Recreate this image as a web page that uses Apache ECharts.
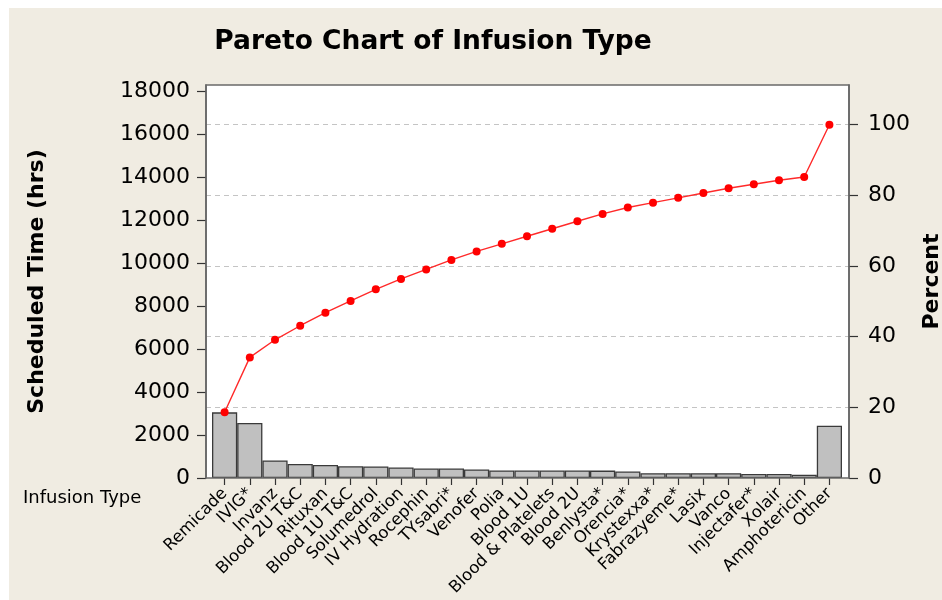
<!DOCTYPE html>
<html>
<head>
<meta charset="utf-8">
<script src="https://cdn.jsdelivr.net/npm/echarts@6/dist/echarts.min.js"></script>
<style>
html,body{margin:0;padding:0;background:#ffffff;}
#chart{width:942px;height:600px;}
</style>
</head>
<body>
<div id="chart"></div>
<script>
const categories = ["Remicade","IVIG*","Invanz","Blood 2U T&C","Rituxan","Blood 1U T&C","Solumedrol","IV Hydration","Rocephin","TYsabri*","Venofer","Polia","Blood 1U","Blood & Platelets","Blood 2U","Benlysta*","Orencia*","Krystexxa*","Fabrazyeme*","Lasix","Vanco","Injectafer*","Xolair","Amphotericin","Other"];
const hours = [3060,2560,820,655,610,545,540,488,442,442,395,355,352,350,348,345,300,224,224,224,224,185,185,150,2440];
const leftTicks = [0,2000,4000,6000,8000,10000,12000,14000,16000,18000];
const rightTicks = [0,20,40,60,80,100];
const leftMax = 18313;

const total = hours.reduce((a,b)=>a+b,0);
let run = 0;
const cumPct = hours.map(v => { run += v; return +(run/total*100).toFixed(3); });
const rightMax = 100*leftMax/total;

const FONT = '"DejaVu Sans", Verdana, sans-serif';
const chart = echarts.init(document.getElementById('chart'), null, {renderer:'canvas'});
chart.setOption({
  animation: false,
  backgroundColor: '#ffffff',
  textStyle: {fontFamily: FONT},
  graphic: [
    {type:'rect', z:-20, shape:{x:9,y:8,width:942,height:600}, style:{fill:'#f0ece2'}},
    {type:'rect', z:-10, shape:{x:206,y:85,width:643,height:393}, style:{fill:'#ffffff'}},
    {type:'rect', z:50, shape:{x:206,y:85,width:643,height:393}, style:{fill:null, stroke:'#6a6a6a', lineWidth:1.5}},
    {type:'text', z:50, x:433, y:42, style:{text:'Pareto Chart of Infusion Type', font:'bold 26.5px '+FONT, fill:'#000', align:'center', verticalAlign:'middle'}},
    {type:'text', z:50, x:23, y:498, style:{text:'Infusion Type', font:'18px '+FONT, fill:'#000', align:'left', verticalAlign:'middle'}}
  ],
  grid: [
    {left:212, right:100, top:85, bottom:122, containLabel:false, outerBoundsMode:'none'},
    {left:206, right:93, top:85, bottom:122, containLabel:false, outerBoundsMode:'none'}
  ],
  xAxis: [
    {type:'category', gridIndex:0, data:categories, boundaryGap:true,
     axisLine:{show:false},
     axisTick:{show:true, alignWithLabel:true, length:7, lineStyle:{color:'#333', width:1.2}},
     axisLabel:{interval:0, rotate:45, fontSize:16.5, color:'#000', fontFamily:FONT, margin:13},
     splitLine:{show:false}},
    {type:'value', gridIndex:1, show:false, min:0, max:1}
  ],
  yAxis: [
    {type:'value', gridIndex:0, position:'left', offset:6, min:0, max:leftMax,
     name:'Scheduled Time (hrs)', nameLocation:'middle', nameRotate:90, nameGap:158,
     nameTextStyle:{fontSize:22, fontWeight:'bold', color:'#000', fontFamily:FONT},
     axisLine:{show:true, lineStyle:{color:'#555', width:1.5}},
     axisTick:{show:true, length:9, customValues:leftTicks, lineStyle:{color:'#333', width:1.2}},
     axisLabel:{customValues:leftTicks, fontSize:22, color:'#000', margin:16, fontFamily:FONT,
                formatter: v => String(Math.round(v))},
     splitLine:{show:false}},
    {type:'value', gridIndex:0, position:'right', offset:7, min:0, max:rightMax,
     name:'Percent', nameLocation:'middle', nameRotate:90, nameGap:63,
     nameTextStyle:{fontSize:22, fontWeight:'bold', color:'#000', fontFamily:FONT},
     axisLine:{show:true, lineStyle:{color:'#555', width:1.5}},
     axisTick:{show:true, length:9, customValues:rightTicks, lineStyle:{color:'#333', width:1.2}},
     axisLabel:{customValues:rightTicks, fontSize:22, color:'#000', margin:19, fontFamily:FONT,
                formatter: v => String(Math.round(v))},
     splitLine:{show:false}},
    {type:'value', gridIndex:1, min:0, max:rightMax,
     axisLine:{show:false}, axisLabel:{show:false},
     axisTick:{show:false, customValues:rightTicks.slice(1)},
     splitLine:{show:true, lineStyle:{color:'#c4c4c4', type:[5,4], width:1.2}}}
  ],
  series: [
    {type:'bar', xAxisIndex:0, yAxisIndex:0, data:hours, barCategoryGap:'0%',
     itemStyle:{color:'#c0c0c0', borderColor:'#3a3a3a', borderWidth:1.3}, z:3},
    {type:'line', xAxisIndex:0, yAxisIndex:1, data:cumPct, symbol:'circle', symbolSize:8,
     lineStyle:{color:'#ff2a2a', width:1.4}, itemStyle:{color:'#ff0000'}, z:5}
  ]
});
</script>
</body>
</html>
